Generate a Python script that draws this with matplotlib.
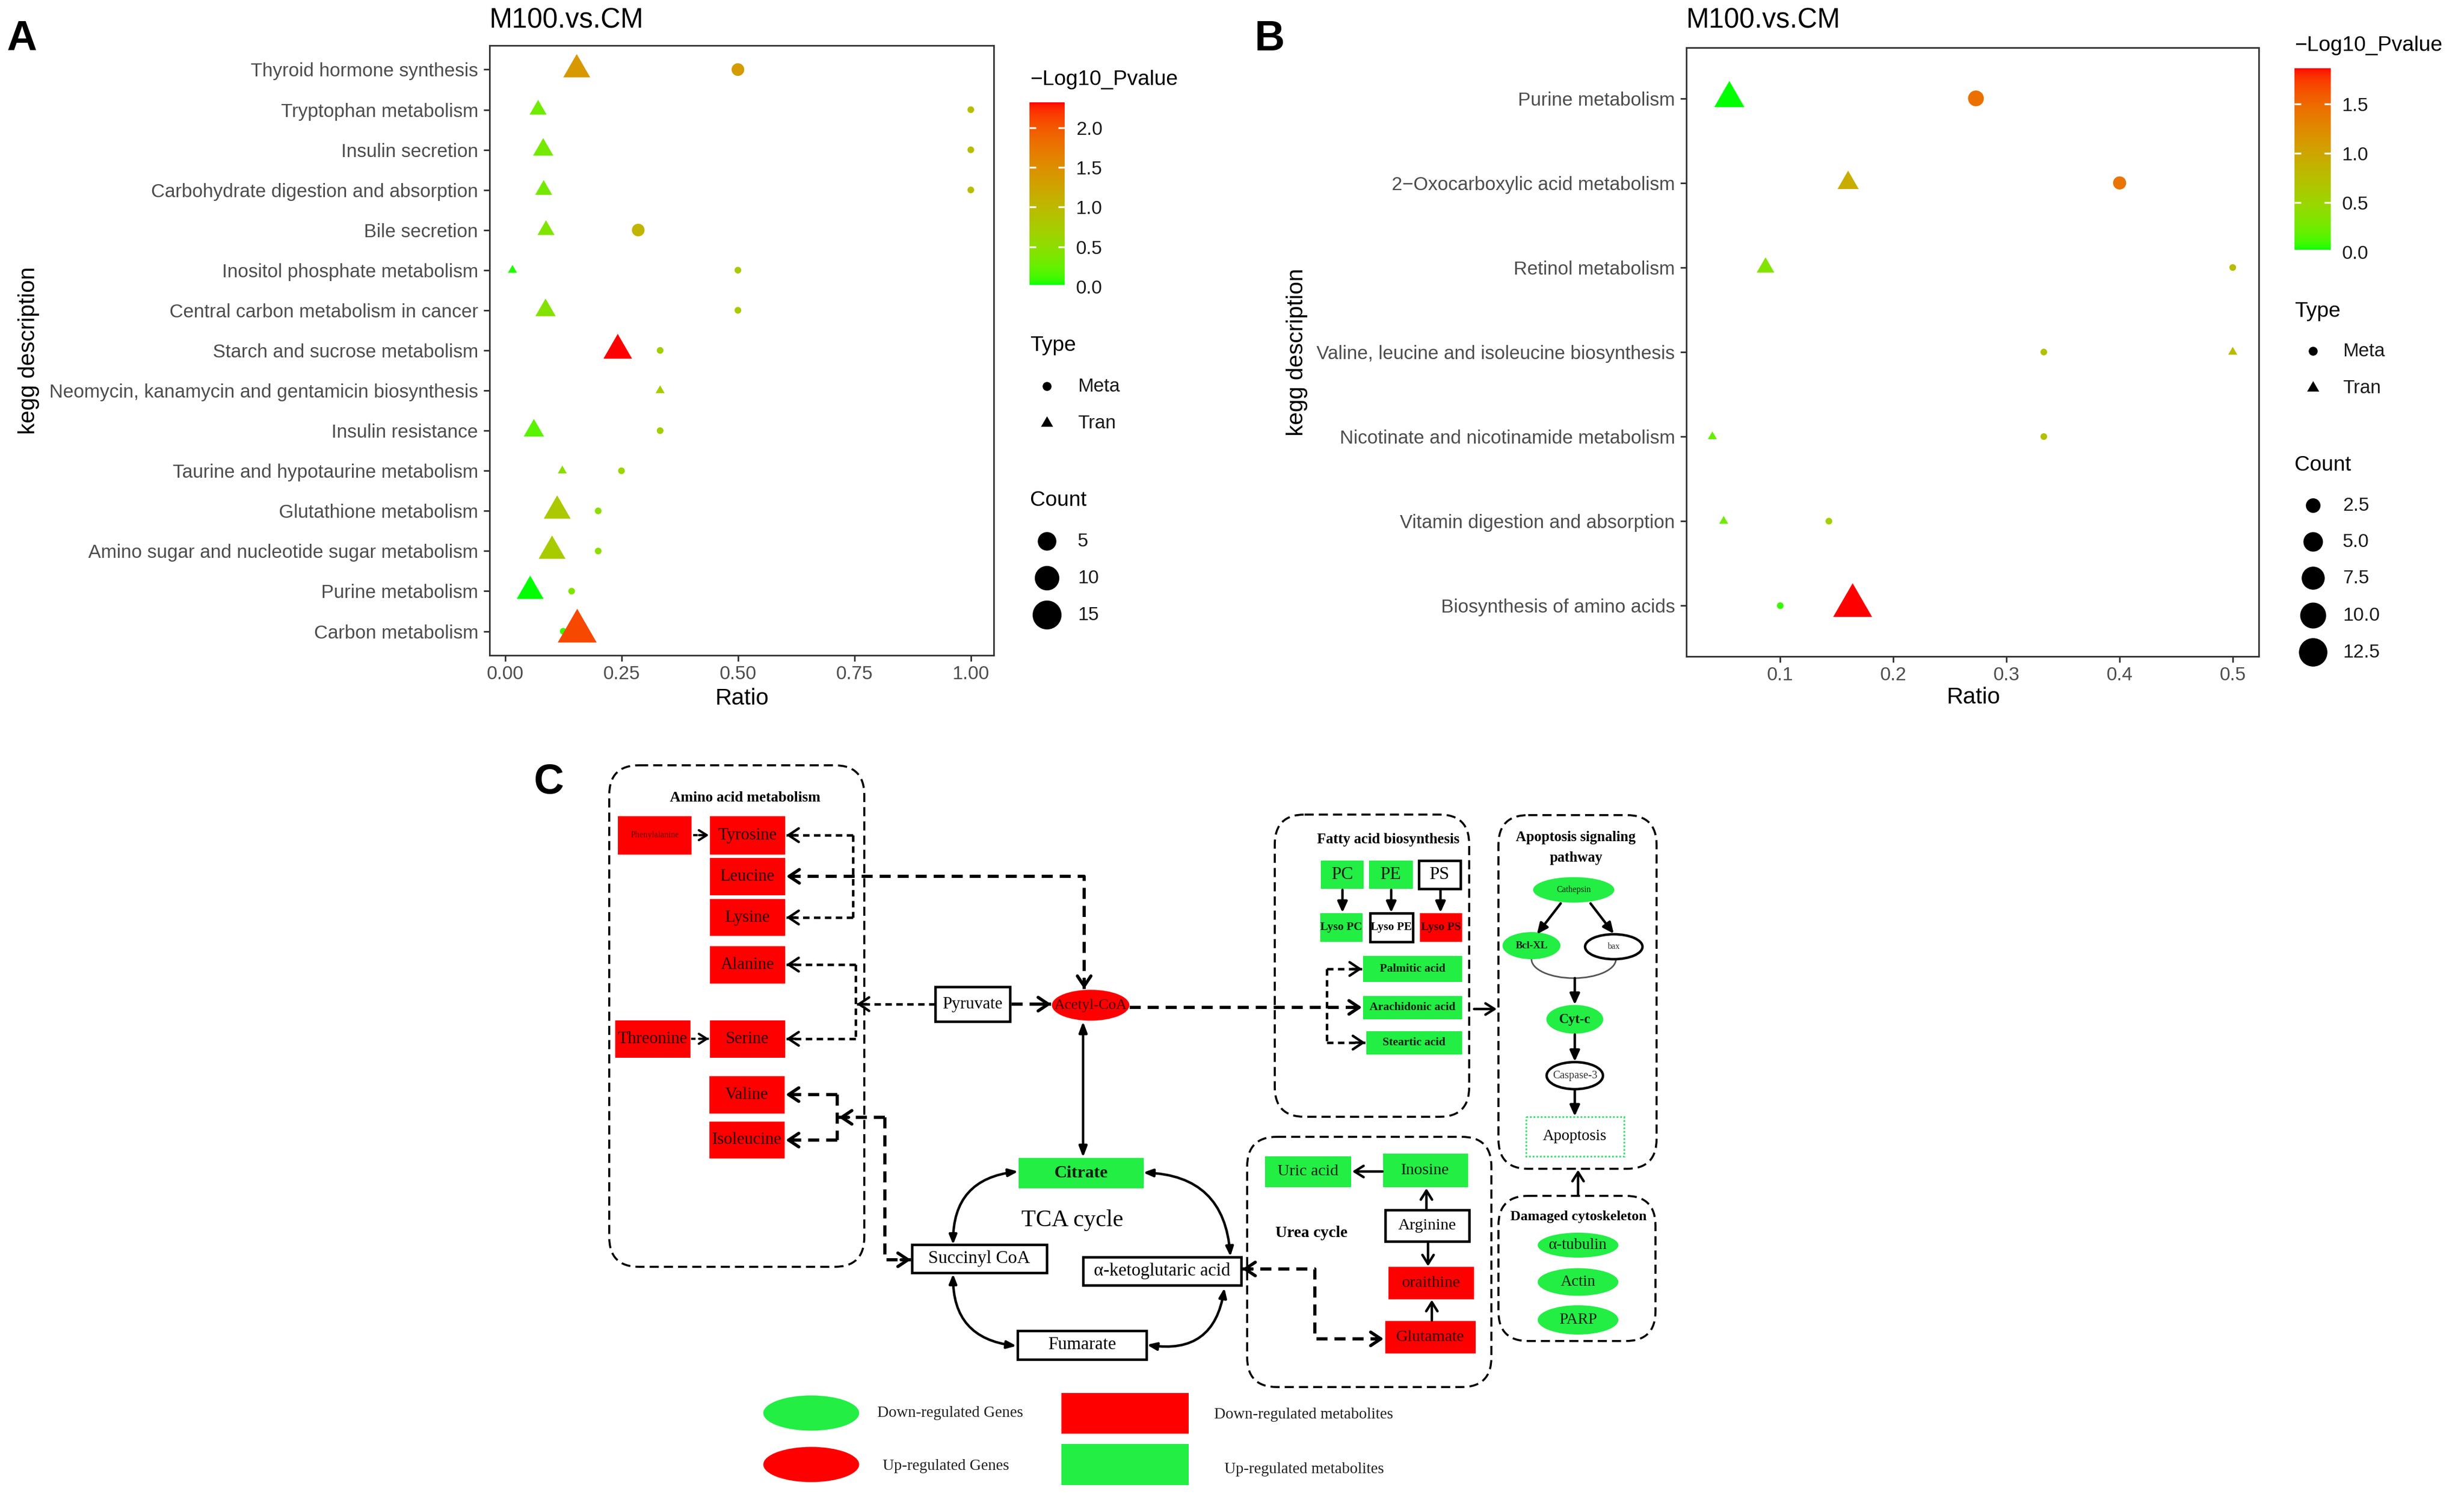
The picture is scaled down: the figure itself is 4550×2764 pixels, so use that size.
"""KEGG enrichment bubble plots (A, B) and the pathway sketch (C)."""

import numpy as np
import matplotlib
matplotlib.use("Agg")
import matplotlib.pyplot as plt
from matplotlib.colors import ListedColormap, Normalize
from matplotlib.cm import ScalarMappable
from matplotlib.patches import FancyBboxPatch, Ellipse, Rectangle, Arc
from matplotlib.path import Path

W, H, DPI = 4550, 2764, 300
plt.rcParams["font.family"] = ["Liberation Sans", "DejaVu Sans"]
SERIF = ["Liberation Serif", "DejaVu Serif"]

# ---------------- panel A data (M100.vs.CM, all pathways)
A_TERMS = ["Thyroid hormone synthesis", "Tryptophan metabolism", "Insulin secretion",
           "Carbohydrate digestion and absorption", "Bile secretion",
           "Inositol phosphate metabolism", "Central carbon metabolism in cancer",
           "Starch and sucrose metabolism",
           "Neomycin, kanamycin and gentamicin biosynthesis", "Insulin resistance",
           "Taurine and hypotaurine metabolism", "Glutathione metabolism",
           "Amino sugar and nucleotide sugar metabolism", "Purine metabolism",
           "Carbon metabolism"]
nan = np.nan
A_META_RATIO = [0.5, 1.0, 1.0, 1.0, 0.286, 0.5, 0.5, 0.333, nan, 0.333, 0.25, 0.2, 0.2, 0.143, 0.125]
A_META_COUNT = [2, 1, 1, 1, 2, 1, 1, 1, nan, 1, 1, 1, 1, 1, 1]
A_META_LOGP = [1.35, 0.93, 0.93, 0.93, 1.05, 0.8, 0.8, 0.7, nan, 0.7, 0.6, 0.5, 0.5, 0.4, 0.1]
A_TRAN_RATIO = [0.154, 0.071, 0.082, 0.083, 0.088, 0.016, 0.087, 0.242, 0.333, 0.062, 0.123, 0.112, 0.101, 0.054, 0.155]
A_TRAN_COUNT = [6, 2, 3, 2, 2, 1, 3, 7, 1, 3, 1, 6, 6, 6, 15]
A_TRAN_LOGP = [1.4, 0.3, 0.35, 0.35, 0.4, 0.05, 0.45, 2.32, 0.75, 0.2, 0.5, 0.8, 0.75, 0.02, 2.1]
A_XTICKS = [0.0, 0.25, 0.5, 0.75, 1.0]
A_CBAR_TICKS = [0.0, 0.5, 1.0, 1.5, 2.0]
A_SIZE_BREAKS = [5, 10, 15]

# ---------------- panel B data (M100.vs.CM, shared pathways)
B_TERMS = ["Purine metabolism", "2\u2212Oxocarboxylic acid metabolism", "Retinol metabolism",
           "Valine, leucine and isoleucine biosynthesis",
           "Nicotinate and nicotinamide metabolism", "Vitamin digestion and absorption",
           "Biosynthesis of amino acids"]
B_META_RATIO = [0.273, 0.4, 0.5, 0.333, 0.333, 0.143, 0.1]
B_META_COUNT = [3, 2, 1, 1, 1, 1, 1]
B_META_LOGP = [1.45, 1.42, 0.75, 0.72, 0.72, 0.55, 0.08]
B_TRAN_RATIO = [0.055, 0.16, 0.087, 0.5, 0.04, 0.05, 0.164]
B_TRAN_COUNT = [7, 3, 2, 1, 1, 1, 13]
B_TRAN_LOGP = [0.02, 0.93, 0.35, 0.78, 0.2, 0.25, 1.86]
B_XTICKS = [0.1, 0.2, 0.3, 0.4, 0.5]
B_CBAR_TICKS = [0.0, 0.5, 1.0, 1.5]
B_SIZE_BREAKS = [2.5, 5.0, 7.5, 10.0, 12.5]

RED, GREEN = "#ff0000", "#22ee44"


# green -> red ramp interpolated in CIELAB, like ggplot's scale_colour_gradient
_M = np.array([[0.4124, 0.3576, 0.1805], [0.2126, 0.7152, 0.0722], [0.0193, 0.1192, 0.9505]])
_WP = np.array([0.95047, 1.0, 1.08883])


def to_lab(rgb):
    rgb = np.asarray(rgb, float)
    lin = np.where(rgb <= 0.04045, rgb / 12.92, ((rgb + 0.055) / 1.055) ** 2.4)
    t = (lin @ _M.T) / _WP
    f = np.where(t > (6 / 29) ** 3, np.cbrt(t), t / (3 * (6 / 29) ** 2) + 4 / 29)
    return np.array([116 * f[1] - 16, 500 * (f[0] - f[1]), 200 * (f[1] - f[2])])


def from_lab(lab):
    fy = (lab[:, 0] + 16) / 116
    fx, fz = fy + lab[:, 1] / 500, fy - lab[:, 2] / 200
    inv = lambda f: np.where(f > 6 / 29, f ** 3, 3 * (6 / 29) ** 2 * (f - 4 / 29))
    xyz = np.stack([inv(fx), inv(fy), inv(fz)], 1) * _WP
    lin = np.clip(xyz @ np.linalg.inv(_M).T, 0, 1)
    return np.clip(np.where(lin <= 0.0031308, 12.92 * lin, 1.055 * lin ** (1 / 2.4) - 0.055), 0, 1)


_t = np.linspace(0, 1, 256)[:, None]
CMAP = ListedColormap(from_lab(to_lab([0, 1, 0]) * (1 - _t) + to_lab([1, 0, 0]) * _t))

TRI = Path([(0, 1), (0.866, -0.5), (-0.866, -0.5), (0, 1)], closed=True)
PT = 72 / DPI


def diam(c, cmin, cmax):
    size = 1 + 5 * np.sqrt((np.asarray(c, float) - cmin) / (cmax - cmin))
    return 8.2 * size + 4.2          # pixels


def disc_area(d):
    return (d * PT) ** 2


def tri_area(d):
    return (1.555 * d * PT) ** 2


fig = plt.figure(figsize=(W / DPI, H / DPI), dpi=DPI)
dx = fig.add_axes([0, 0, 1, 1], zorder=0)
dx.set_xlim(0, W)
dx.set_ylim(H, 0)
dx.axis("off")


def px_axes(l, t, r, b):
    return fig.add_axes([l / W, 1 - b / H, (r - l) / W, (b - t) / H], zorder=2)


def bubbles(box, terms, m_ratio, m_count, m_logp, t_ratio, t_count, t_logp, xticks, fmt):
    ax = px_axes(*box)
    m_ratio, m_count, m_logp = (np.asarray(v, float) for v in (m_ratio, m_count, m_logp))
    t_ratio, t_count, t_logp = (np.asarray(v, float) for v in (t_ratio, t_count, t_logp))
    n = len(terms)
    pos = np.arange(n)
    counts = np.concatenate([m_count, t_count])
    cmin, cmax = np.nanmin(counts), np.nanmax(counts)
    logp = np.concatenate([m_logp, t_logp])
    norm = Normalize(np.nanmin(logp), np.nanmax(logp))
    ratio = np.concatenate([m_ratio, t_ratio])
    lo, hi = np.nanmin(ratio), np.nanmax(ratio)
    pad = 0.05 * (hi - lo)
    ax.set_xlim(lo - pad, hi + pad)
    ax.set_ylim(n - 0.4, -0.6)
    keep = ~np.isnan(m_ratio)
    ax.scatter(m_ratio[keep], pos[keep], s=disc_area(diam(m_count[keep], cmin, cmax)),
               c=m_logp[keep], cmap=CMAP, norm=norm, marker="o", linewidths=0, zorder=3)
    ax.scatter(t_ratio, pos, s=tri_area(diam(t_count, cmin, cmax)),
               c=t_logp, cmap=CMAP, norm=norm, marker=TRI, linewidths=0, zorder=3)
    ax.set_yticks(pos, terms)
    ax.set_xticks(xticks, [fmt.format(v) for v in xticks])
    for s in ax.spines.values():
        s.set_color("#333333")
        s.set_linewidth(0.7)
    ax.tick_params(length=11 * PT, width=0.7, color="#333333", labelcolor="#4d4d4d",
                   labelsize=8.4)
    ax.tick_params(axis="y", pad=2.4)
    ax.tick_params(axis="x", pad=1.6)
    return norm, cmin, cmax


def legend(norm, cmin, cmax, x0, title_y, cbar, ticks, type_ys, count_y, breaks, item_ys,
           mark_x, lab_x):
    txt = dict(fontsize=8.4, color="#1a1a1a", va="center")
    ttl = dict(fontsize=9.4, color="black", va="center")
    dx.text(x0, title_y, "\u2212Log10_Pvalue", **ttl)
    cax = px_axes(*cbar)
    cb = fig.colorbar(ScalarMappable(norm=norm, cmap=CMAP), cax=cax)
    cb.outline.set_visible(False)
    cb.set_ticks(ticks, labels=[f"{v:.1f}" for v in ticks])
    cb.minorticks_off()
    cax.tick_params(direction="in", length=12 * PT, width=0.8, color="white",
                    labelcolor="#1a1a1a", labelsize=8.4, left=True, right=True, pad=5)
    dx.text(x0, type_ys[0], "Type", **ttl)
    d0 = 8.2 * 1.5 + 4.2
    dx.scatter([mark_x], [type_ys[1]], s=disc_area(d0), c="black", marker="o", linewidths=0)
    dx.scatter([mark_x], [type_ys[2]], s=tri_area(d0), c="black", marker=TRI, linewidths=0)
    dx.text(lab_x, type_ys[1], "Meta", **txt)
    dx.text(lab_x, type_ys[2], "Tran", **txt)
    dx.text(x0, count_y, "Count", **ttl)
    for b, y in zip(breaks, item_ys):
        dx.scatter([mark_x], [y], s=disc_area(diam(b, cmin, cmax)), c="black", marker="o",
                   linewidths=0)
        dx.text(lab_x, y, f"{b:g}" if float(b).is_integer() and max(breaks) >= 15 else f"{b:.1f}",
                **txt)


# ---------------- panel A
norm_a, ca0, ca1 = bubbles((904, 84, 1835, 1210), A_TERMS, A_META_RATIO, A_META_COUNT,
                           A_META_LOGP, A_TRAN_RATIO, A_TRAN_COUNT, A_TRAN_LOGP,
                           A_XTICKS, "{:.2f}")
legend(norm_a, ca0, ca1, 1902, 147, (1901, 189, 1966, 529), A_CBAR_TICKS, (638, 713, 781),
       924, A_SIZE_BREAKS, (999, 1067, 1135), 1933, 1990)
dx.text(904, 38, "M100.vs.CM", fontsize=12.2, va="center", ha="left")
dx.text(1370, 1290, "Ratio", fontsize=10.2, va="center", ha="center")
dx.text(53, 647, "kegg description", fontsize=10.2, va="center", ha="center", rotation=90)

# ---------------- panel B
norm_b, cb0, cb1 = bubbles((3114, 88, 4171, 1212), B_TERMS, B_META_RATIO, B_META_COUNT,
                           B_META_LOGP, B_TRAN_RATIO, B_TRAN_COUNT, B_TRAN_LOGP,
                           B_XTICKS, "{:.1f}")
legend(norm_b, cb0, cb1, 4237, 84, (4237, 126, 4304, 465), B_CBAR_TICKS, (575, 648, 716),
       859, B_SIZE_BREAKS, (933, 1000, 1067, 1136, 1204), 4271, 4326)
dx.text(3114, 38, "M100.vs.CM", fontsize=12.2, va="center", ha="left")
dx.text(3644, 1288, "Ratio", fontsize=10.2, va="center", ha="center")
dx.text(2395, 650, "kegg description", fontsize=10.2, va="center", ha="center", rotation=90)

for letter, x, y in [("A", 40, 72), ("B", 2345, 72), ("C", 1014, 1444)]:
    dx.text(x, y, letter, fontsize=18.5, weight="bold", ha="center", va="center")

# ---------------- panel C: pathway sketch (layout in figure pixels)
# label, cx, cy, w, h, shape, fill, edge, text colour, size, weight
NODES = [
    ("Phenylalanine", 1209, 1542, 136, 71, "rect", RED, None, "#6a0000", 3.8, "normal"),
    ("Tyrosine", 1380, 1542, 139, 71, "rect", RED, None, "#2a0000", 7.5, "normal"),
    ("Leucine", 1380, 1618, 139, 69, "rect", RED, None, "#2a0000", 7.5, "normal"),
    ("Lysine", 1380, 1694, 139, 68, "rect", RED, None, "#2a0000", 7.5, "normal"),
    ("Alanine", 1380, 1781, 139, 69, "rect", RED, None, "#2a0000", 7.5, "normal"),
    ("Threonine", 1205, 1918, 139, 69, "rect", RED, None, "#2a0000", 7.5, "normal"),
    ("Serine", 1380, 1918, 139, 69, "rect", RED, None, "#2a0000", 7.5, "normal"),
    ("Valine", 1379, 2021, 139, 69, "rect", RED, None, "#2a0000", 7.5, "normal"),
    ("Isoleucine", 1379, 2105, 139, 68, "rect", RED, None, "#2a0000", 7.5, "normal"),
    ("Pyruvate", 1796, 1854, 138, 64, "rect", "white", "black", "black", 7.5, "normal"),
    ("Acetyl-CoA", 2014, 1856, 143, 57, "oval", RED, None, "#4a0000", 6.6, "normal"),
    ("Citrate", 1996, 2166, 231, 56, "rect", GREEN, None, "#102010", 7.8, "bold"),
    ("Succinyl CoA", 1808, 2324, 249, 52, "rect", "white", "black", "black", 8.0, "normal"),
    ("\u03b1-ketoglutaric acid", 2146, 2347, 292, 52, "rect", "white", "black", "black", 8.0, "normal"),
    ("Fumarate", 1998, 2483, 238, 53, "rect", "white", "black", "black", 8.0, "normal"),
    ("PC", 2478, 1615, 79, 52, "rect", GREEN, None, "#102010", 8.0, "normal"),
    ("PE", 2568, 1615, 81, 52, "rect", GREEN, None, "#102010", 8.0, "normal"),
    ("PS", 2658, 1615, 77, 52, "rect", "white", "black", "black", 8.0, "normal"),
    ("Lyso PC", 2477, 1712, 78, 53, "rect", GREEN, None, "#102010", 5.2, "bold"),
    ("Lyso PE", 2569, 1712, 79, 53, "rect", "white", "black", "black", 5.2, "bold"),
    ("Lyso PS", 2661, 1712, 78, 53, "rect", RED, None, "#3a0000", 5.2, "bold"),
    ("Palmitic acid", 2608, 1789, 183, 48, "rect", GREEN, None, "#102010", 5.2, "bold"),
    ("Arachidonic acid", 2608, 1860, 183, 43, "rect", GREEN, None, "#102010", 5.2, "bold"),
    ("Steartic acid", 2611, 1925, 177, 43, "rect", GREEN, None, "#102010", 5.2, "bold"),
    ("Cathepsin", 2906, 1643, 150, 47, "oval", GREEN, None, "#102010", 3.8, "normal"),
    ("Bcl-XL", 2828, 1746, 107, 50, "oval", GREEN, None, "#102010", 4.6, "bold"),
    ("bax", 2980, 1748, 106, 46, "oval", "white", "black", "#333333", 3.8, "normal"),
    ("Cyt-c", 2908, 1882, 105, 53, "oval", GREEN, None, "#102010", 6.0, "bold"),
    ("Caspase-3", 2908, 1986, 104, 50, "oval", "white", "black", "#333333", 4.8, "normal"),
    ("\u03b1-tubulin", 2914, 2299, 149, 46, "oval", GREEN, None, "#102010", 7.0, "normal"),
    ("Actin", 2914, 2367, 149, 51, "oval", GREEN, None, "#102010", 7.0, "normal"),
    ("PARP", 2914, 2437, 149, 54, "oval", GREEN, None, "#102010", 7.0, "normal"),
    ("Uric acid", 2415, 2163, 159, 57, "rect", GREEN, None, "#102010", 7.3, "normal"),
    ("Inosine", 2632, 2161, 157, 62, "rect", GREEN, None, "#102010", 7.3, "normal"),
    ("Arginine", 2635, 2263, 155, 58, "rect", "white", "black", "black", 7.3, "normal"),
    ("oraithine", 2643, 2369, 158, 60, "rect", RED, None, "#3a0000", 7.3, "normal"),
    ("Glutamate", 2641, 2469, 167, 60, "rect", RED, None, "#3a0000", 7.3, "normal"),
]

# x0, y0, x1, y1 of the dashed group boxes
GROUPS = [
    (1125, 1413, 1596, 2339),
    (2354, 1504, 2713, 2062),
    (2767, 1505, 3059, 2158),
    (2303, 2099, 2754, 2561),
    (2767, 2208, 3057, 2476),
]
HEADINGS = [
    ("Amino acid metabolism", 1376, 1473, 6.6),
    ("Fatty acid biosynthesis", 2564, 1550, 6.5),
    ("Apoptosis signaling", 2910, 1546, 6.4),
    ("pathway", 2910, 1584, 6.4),
    ("Damaged cytoskeleton", 2915, 2246, 6.3),
    ("Urea cycle", 2422, 2277, 7.2),
]

for x0, y0, x1, y1 in GROUPS:
    dx.add_patch(FancyBboxPatch((x0, y0), x1 - x0, y1 - y0,
                                boxstyle="round,pad=0,rounding_size=55", fc="none",
                                ec="black", lw=0.9, ls=(0, (4.5, 2.5))))
for s, x, y, fs in HEADINGS:
    dx.text(x, y, s, ha="center", va="center", fontsize=fs, weight="bold", family=SERIF)

for label, cx, cy, w, h, shape, fill, edge, tc, fs, wt in NODES:
    kw = dict(fc=fill, ec=edge if edge else "none", lw=1.1 if edge else 0, zorder=3)
    if shape == "rect":
        dx.add_patch(Rectangle((cx - w / 2, cy - h / 2), w, h, **kw))
    else:
        dx.add_patch(Ellipse((cx, cy), w, h, **kw))
    dx.text(cx, cy, label, ha="center", va="center", fontsize=fs, weight=wt, color=tc,
            family=SERIF, zorder=4)

dx.add_patch(Rectangle((2818, 2062), 181, 73, fc="none", ec="#44dd77", lw=0.8,
                       ls=(0, (1, 1)), zorder=3))
dx.text(2908, 2098, "Apoptosis", ha="center", va="center", fontsize=7.0, family=SERIF)
dx.text(1980, 2253, "TCA cycle", ha="center", va="center", fontsize=10.5, family=SERIF)
dx.add_patch(Arc((2906, 1771), 156, 70, theta1=0, theta2=180, color="#555555", lw=0.7))


def tip(p_from, p_to, lw, style):
    v = np.subtract(p_to, p_from).astype(float)
    v /= np.hypot(*v)
    back = np.asarray(p_to, float) - v * 18
    dx.annotate("", xy=p_to, xytext=back,
                arrowprops=dict(arrowstyle=style, lw=lw, color="black", shrinkA=0, shrinkB=0))


def link(pts, end=True, start=False, lw=1.4, dash=(3.5, 2.2),
         style="->,head_length=0.45,head_width=0.3"):
    xs, ys = zip(*pts)
    dx.plot(xs, ys, color="black", lw=lw, ls=(0, dash) if dash else "-",
            dash_capstyle="butt", solid_capstyle="butt")
    if end:
        tip(pts[-2], pts[-1], lw, style)
    if start:
        tip(pts[1], pts[0], lw, style)


THIN = dict(lw=1.1, dash=(2.6, 1.8))
# dashed metabolic links
link([(2002, 1826), (2002, 1618), (1452, 1618)], start=True)
link([(1575, 1542), (1575, 1694)], end=False, **THIN)
link([(1575, 1542), (1452, 1542)], **THIN)
link([(1575, 1694), (1452, 1694)], **THIN)
link([(1580, 1781), (1580, 1918)], end=False, **THIN)
link([(1580, 1781), (1452, 1781)], **THIN)
link([(1580, 1918), (1452, 1918)], **THIN)
link([(1727, 1854), (1582, 1854)], **THIN)
link([(1280, 1542), (1309, 1542)], lw=1.0, dash=(2, 1.6), style="->,head_length=0.35,head_width=0.22")
link([(1276, 1918), (1309, 1918)], lw=1.0, dash=(2, 1.6), style="->,head_length=0.35,head_width=0.22")
link([(1546, 2021), (1546, 2105)], end=False)
link([(1546, 2021), (1451, 2021)])
link([(1546, 2105), (1451, 2105)])
link([(1634, 2063), (1549, 2063)])
link([(1634, 2063), (1634, 2326), (1682, 2326)])
link([(1868, 1854), (1941, 1854)])
link([(2086, 1860), (2515, 1860)])
link([(2450, 1789), (2450, 1925)], end=False, **THIN)
link([(2450, 1789), (2515, 1789)], **THIN)
link([(2450, 1925), (2521, 1925)], **THIN)
link([(2294, 2343), (2428, 2343), (2428, 2472), (2555, 2472)], start=True)

# solid arrows
SOLID = "-|>,head_length=0.4,head_width=0.18"
OPEN = "->,head_length=0.4,head_width=0.25"
for a, b, st in [((2722, 1863), (2764, 1863), OPEN), ((2914, 2207), (2914, 2160), OPEN),
                 ((2553, 2163), (2497, 2163), OPEN), ((2634, 2233), (2634, 2194), OPEN),
                 ((2637, 2293), (2637, 2338), OPEN), ((2644, 2438), (2644, 2400), OPEN),
                 ((2479, 1643), (2479, 1685), SOLID), ((2569, 1643), (2569, 1685), SOLID),
                 ((2660, 1643), (2660, 1685), SOLID), ((2882, 1668), (2838, 1725), SOLID),
                 ((2937, 1668), (2980, 1724), SOLID), ((2908, 1806), (2908, 1855), SOLID),
                 ((2908, 1910), (2908, 1960), SOLID), ((2908, 2012), (2908, 2061), SOLID)]:
    dx.annotate("", xy=b, xytext=a, arrowprops=dict(arrowstyle=st, lw=1.1, color="black",
                                                    shrinkA=0, shrinkB=0))
dx.annotate("", xy=(2000, 2137), xytext=(2000, 1886),
            arrowprops=dict(arrowstyle="<|-|>,head_length=0.4,head_width=0.15", lw=1.1,
                            color="black", shrinkA=0, shrinkB=0))

# TCA cycle arcs
for p0, p1, rad in [((1760, 2298), (1880, 2163), -0.45), ((2111, 2165), (2272, 2320), -0.45),
                    ((1760, 2352), (1877, 2485), 0.45), ((2261, 2378), (2118, 2483), -0.5)]:
    dx.annotate("", xy=p1, xytext=p0,
                arrowprops=dict(arrowstyle="<|-|>,head_length=0.35,head_width=0.14",
                                connectionstyle=f"arc3,rad={rad}", lw=1.1, color="black",
                                shrinkA=0, shrinkB=0))

# key
dx.add_patch(Ellipse((1498, 2609), 177, 65, fc=GREEN, ec="none"))
dx.add_patch(Ellipse((1498, 2704), 177, 65, fc=RED, ec="none"))
dx.add_patch(Rectangle((1960, 2572), 235, 75, fc=RED, ec="none"))
dx.add_patch(Rectangle((1960, 2666), 235, 76, fc=GREEN, ec="none"))
for s, x, y in [("Down-regulated Genes", 1620, 2609), ("Up-regulated Genes", 1630, 2707),
                ("Down-regulated metabolites", 2242, 2612),
                ("Up-regulated metabolites", 2261, 2713)]:
    dx.text(x, y, s, ha="left", va="center", fontsize=7.0, family=SERIF, color="#222222")

fig.savefig("out.png", dpi=DPI)
